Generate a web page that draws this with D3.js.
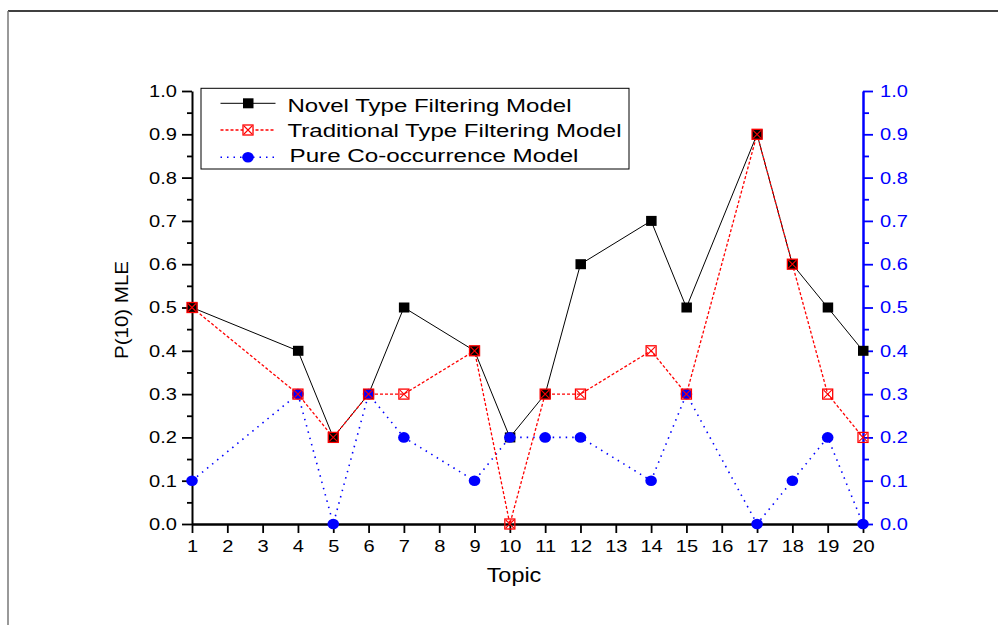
<!DOCTYPE html>
<html><head><meta charset="utf-8">
<script src="https://cdn.jsdelivr.net/npm/d3@7/dist/d3.min.js"></script>
<style>body{margin:0;background:#fff}svg{display:block;font-family:"Liberation Sans",Arial,sans-serif}</style>
</head><body><svg id="c" width="998" height="625"></svg>
<script>
const topics = [1,4,5,6,7,9,10,11,12,14,15,17,18,19,20];
const novel = [0.5,0.4,0.2,0.3,0.5,0.4,0.2,0.3,0.6,0.7,0.5,0.9,0.6,0.5,0.4];
const traditional = [0.5,0.3,0.2,0.3,0.3,0.4,0.0,0.3,0.3,0.4,0.3,0.9,0.6,0.3,0.2];
const pure = [0.1,0.3,0.0,0.3,0.2,0.1,0.2,0.2,0.2,0.1,0.3,0.0,0.1,0.2,0.0];
const xTicks = d3.range(1,21);
const yTicks = d3.range(0,11).map(i=>i/10);
const seriesNames = ["Novel Type Filtering Model","Traditional Type Filtering Model","Pure Co-occurrence Model"];

const svg = d3.select("#c");
function stretch(sel,k){
  sel.each(function(){const w=this.getComputedTextLength();d3.select(this).attr("textLength",w*k).attr("lengthAdjust","spacingAndGlyphs");});
}
// frame
svg.append("line").attr("x1",8).attr("y1",11).attr("x2",998).attr("y2",11).attr("stroke","#000").attr("stroke-width",1.5);
svg.append("line").attr("x1",8).attr("y1",11).attr("x2",8).attr("y2",625).attr("stroke","#777").attr("stroke-width",1.5);

const L=192,R=863,T=91,B=524;
const x = d3.scaleLinear().domain([1,20]).range([L,R]);
const y = d3.scaleLinear().domain([0,1]).range([B,T]);
const minor = d3.range(0,10).map(i=>i/10+0.05);

function styleAxis(g,color){
  g.select(".domain").attr("stroke",color).attr("stroke-width",2);
  g.selectAll(".tick line").attr("stroke",color).attr("stroke-width",1.8);
  g.selectAll(".tick text").attr("fill",color).style("font-size","17px").style("font-family","Liberation Sans, Arial, sans-serif");
  stretch(g.selectAll(".tick text"),1.18);
}
// left axis
const gl = svg.append("g").attr("transform",`translate(${L},0)`)
  .call(d3.axisLeft(y).tickValues(yTicks).tickFormat(d3.format(".1f")).tickSize(10).tickSizeOuter(0).tickPadding(5));
styleAxis(gl,"#000");
svg.append("g").attr("transform",`translate(${L},0)`).call(d3.axisLeft(y).tickValues(minor).tickSize(5).tickFormat(""))
  .call(g=>{g.select(".domain").remove();g.selectAll("line").attr("stroke","#000").attr("stroke-width",1.8);});
// right axis
const gr = svg.append("g").attr("transform",`translate(${R},0)`)
  .call(d3.axisRight(y).tickValues(yTicks).tickFormat(d3.format(".1f")).tickSize(10).tickSizeOuter(0).tickPadding(7));
styleAxis(gr,"#0000ff");
gr.select(".domain").attr("stroke-width",2.5);
svg.append("g").attr("transform",`translate(${R},0)`).call(d3.axisRight(y).tickValues(minor).tickSize(6).tickFormat(""))
  .call(g=>{g.select(".domain").remove();g.selectAll("line").attr("stroke","#0000ff").attr("stroke-width",1.8);});
// bottom axis
const gb = svg.append("g").attr("transform",`translate(0,${B})`)
  .call(d3.axisBottom(x).tickValues(xTicks).tickFormat(d3.format("d")).tickSize(9).tickSizeOuter(0).tickPadding(7));
styleAxis(gb,"#000");
gb.select(".domain").attr("stroke-width",2.5);

// axis titles
const tt = svg.append("text").attr("x",514).attr("y",582).attr("text-anchor","middle").style("font-size","20px").text("Topic");
stretch(tt,1.17);
const ty = svg.append("text").attr("transform",`translate(128,310) rotate(-90)`).attr("text-anchor","middle").style("font-size","19px").text("P(10) MLE");
stretch(ty,1.08);

const line = d3.line().x((d,i)=>x(topics[i])).y(d=>y(d));
// Novel
svg.append("path").datum(novel).attr("d",line).attr("fill","none").attr("stroke","#000").attr("stroke-width",1);
// Pure
svg.append("path").datum(pure).attr("d",line).attr("fill","none").attr("stroke","#0000ff").attr("stroke-width",1.6).attr("stroke-dasharray","1.5,5");
// Traditional
svg.append("path").datum(traditional).attr("d",line).attr("fill","none").attr("stroke","#ff0000").attr("stroke-width",1.3).attr("stroke-dasharray","3,2");

function sq(g,cx,cy){g.append("rect").attr("x",cx-5).attr("y",cy-5).attr("width",10.5).attr("height",10).attr("fill","#000");}
function circ(g,cx,cy){g.append("ellipse").attr("cx",cx).attr("cy",cy).attr("rx",5.8).attr("ry",5.3).attr("fill","#0000ff");}
function cross(g,cx,cy){
  g.append("rect").attr("x",cx-5).attr("y",cy-5).attr("width",10).attr("height",10).attr("fill","none").attr("stroke","#ff0000").attr("stroke-width",1.3);
  g.append("path").attr("d",`M${cx-4},${cy-4}L${cx+4},${cy+4}M${cx+4},${cy-4}L${cx-4},${cy+4}`).attr("stroke","#ff0000").attr("stroke-width",1.1);
}
const gm = svg.append("g");
novel.forEach((v,i)=>sq(gm,x(topics[i]),y(v)));
pure.forEach((v,i)=>circ(gm,x(topics[i]),y(v)));
traditional.forEach((v,i)=>cross(gm,x(topics[i]),y(v)));

// legend
const lg = svg.append("g");
lg.append("rect").attr("x",201).attr("y",88.3).attr("width",428).attr("height",80.7).attr("fill","#fff").attr("stroke","#000").attr("stroke-width",1);
const ly=[103.3,130,157.3];
const lx1=220.5,lx2=275.5,lc=248;
lg.append("line").attr("x1",lx1).attr("x2",lx2).attr("y1",ly[0]).attr("y2",ly[0]).attr("stroke","#000");
sq(lg,lc,ly[0]);
lg.append("line").attr("x1",lx1).attr("x2",lx2).attr("y1",ly[1]).attr("y2",ly[1]).attr("stroke","#ff0000").attr("stroke-width",1.3).attr("stroke-dasharray","3,2");
lg.append("rect").attr("x",lc-5).attr("y",ly[1]-5).attr("width",10).attr("height",10).attr("fill","#fff");
cross(lg,lc,ly[1]);
lg.append("line").attr("x1",lx1).attr("x2",lx2).attr("y1",ly[2]).attr("y2",ly[2]).attr("stroke","#0000ff").attr("stroke-width",1.6).attr("stroke-dasharray","1.5,5");
circ(lg,lc,ly[2]);
const lbase=[111.7,136.7,162.3], lxs=[287.5,287.5,289.5], lw=[284,334,289];
seriesNames.forEach((n,i)=>{
  lg.append("text").attr("x",lxs[i]).attr("y",lbase[i]).style("font-size","17.5px")
    .attr("textLength",lw[i]).attr("lengthAdjust","spacingAndGlyphs").text(n);
});
</script></body></html>
